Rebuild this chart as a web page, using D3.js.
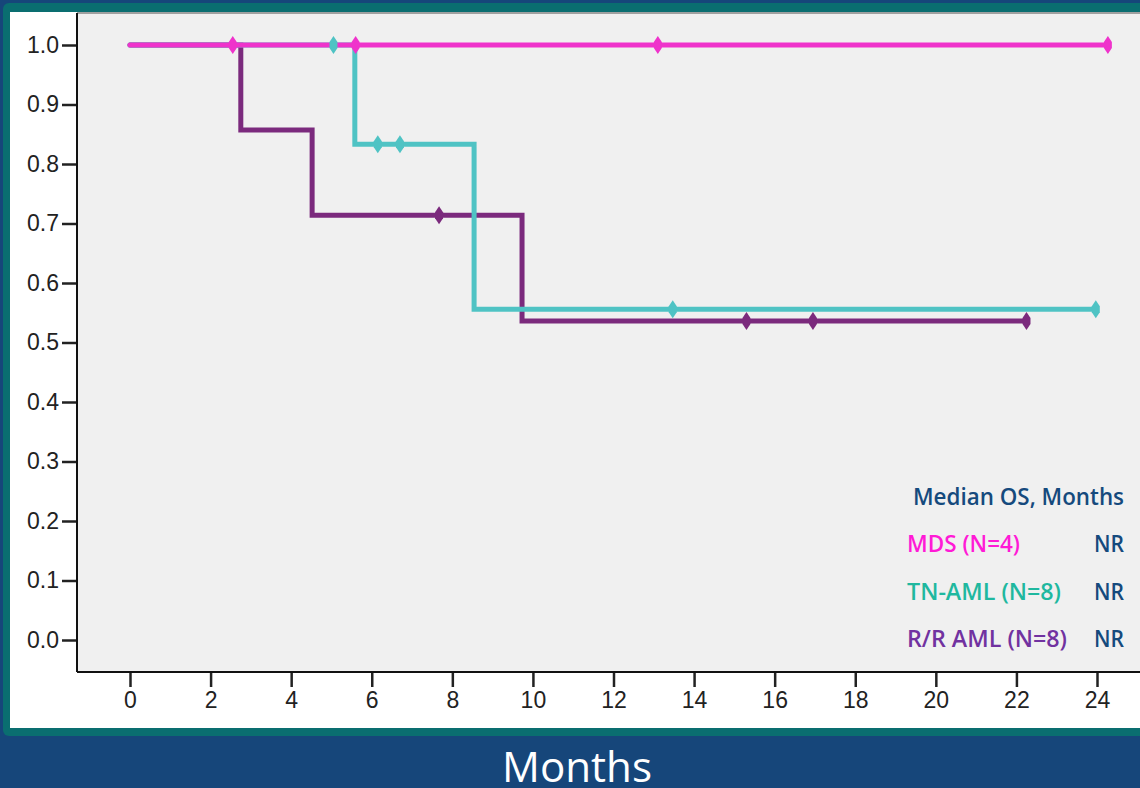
<!DOCTYPE html>
<html>
<head>
<meta charset="utf-8">
<script src="https://cdn.jsdelivr.net/npm/d3@7"></script>
<style>
html, body { margin: 0; padding: 0; background: #16467a; }
svg { display: block; }
</style>
</head>
<body>
<div id="canvas"></div>
<script>
// ----------------------------------------------------------
// DATA -----------------------------------------------------
// ----------------------------------------------------------
var group_names = ["MDS (N=4)", "TN-AML (N=8)", "R/R AML (N=8)"];
var median_os = ["NR", "NR", "NR"];

// step curves: time (months) and survival after that time
var mds_time = [0, 24.27];
var mds_surv = [1, 1];
var tn_time = [0, 5.58, 8.54, 23.97];
var tn_surv = [1, 0.833, 0.556, 0.556];
var rr_time = [0, 2.75, 4.52, 9.73, 22.25];
var rr_surv = [1, 0.857, 0.714, 0.536, 0.536];

// censored times
var mds_cens = [2.55, 5.6, 13.1, 24.27];
var tn_cens = [5.05, 6.15, 6.7, 13.47, 23.97];
var rr_cens = [7.67, 15.3, 16.95, 22.25];

var x_ticks = [0, 2, 4, 6, 8, 10, 12, 14, 16, 18, 20, 22, 24];
var y_ticks = [0, 0.1, 0.2, 0.3, 0.4, 0.5, 0.6, 0.7, 0.8, 0.9, 1.0];

var line_colors = ["#ef33cb", "#4fc3c4", "#7b2a7d"];
var text_colors = ["#ff1ad6", "#1fb89f", "#7132a0"];

// ----------------------------------------------------------
// STRUCTURE ------------------------------------------------
// ----------------------------------------------------------
var W = 1140, H = 788;

var container = d3.select("#canvas").append("svg")
.attr("width", W)
.attr("height", H);

container.append("rect")
.attr("width", W).attr("height", H)
.attr("fill", "#16467a");

// teal frame and white panel
container.append("rect")
.attr("x", 3).attr("y", 3).attr("width", W + 20).attr("height", 733)
.attr("rx", 6)
.attr("fill", "#0a6e70");
container.append("rect")
.attr("x", 10).attr("y", 12).attr("width", W).attr("height", 716)
.attr("fill", "#ffffff");

var plot_left = 77, plot_top = 13, plot_bottom = 672;

container.append("rect")
.attr("x", plot_left).attr("y", plot_top)
.attr("width", W - plot_left + 10).attr("height", plot_bottom - plot_top)
.attr("fill", "#f0f0f0");
container.append("line")
.attr("x1", plot_left).attr("x2", W)
.attr("y1", plot_top).attr("y2", plot_top)
.attr("stroke", "#a0a0a0").attr("stroke-width", 2);

// scales
var xScale = d3.scaleLinear().domain([0, 24]).range([130, 1097]);
var yScale = d3.scaleLinear().domain([0, 1]).range([640, 45]);

// ----------------------------------------------------------
// AXES -----------------------------------------------------
// ----------------------------------------------------------
var y_axis = container.append("g")
.attr("transform", `translate(${plot_left}, 0)`)
.call(d3.axisLeft(yScale).tickValues(y_ticks).tickFormat(d3.format(".1f")).tickSize(15).tickPadding(3));

var x_axis = container.append("g")
.attr("transform", `translate(0, ${plot_bottom})`)
.call(d3.axisBottom(xScale).tickValues(x_ticks).tickSize(15).tickPadding(5));

[y_axis, x_axis].forEach(function (a) {
a.select(".domain").remove();
a.selectAll(".tick line").attr("stroke", "#222").attr("stroke-width", 2.5);
a.selectAll(".tick text")
.attr("fill", "#222")
.style("font-family", "'Liberation Sans', Arial, sans-serif")
.style("font-size", "23px");
});

// frame lines
container.append("line")
.attr("x1", plot_left).attr("x2", plot_left)
.attr("y1", plot_top).attr("y2", plot_bottom)
.attr("stroke", "#111").attr("stroke-width", 2);
container.append("line")
.attr("x1", plot_left).attr("x2", W)
.attr("y1", plot_bottom).attr("y2", plot_bottom)
.attr("stroke", "#111").attr("stroke-width", 2);

// ----------------------------------------------------------
// CURVES ---------------------------------------------------
// ----------------------------------------------------------
var series = [
{ time: mds_time, surv: mds_surv, cens: mds_cens, color: line_colors[0] },
{ time: tn_time, surv: tn_surv, cens: tn_cens, color: line_colors[1] },
{ time: rr_time, surv: rr_surv, cens: rr_cens, color: line_colors[2] }
];

function survAt(s, t) {
var v = s.surv[0];
for (var i = 0; i < s.time.length; i++) {
if (s.time[i] <= t) v = s.surv[i];
}
return v;
}

var line = d3.line()
.x((d) => xScale(d[0]))
.y((d) => yScale(d[1]))
.curve(d3.curveStepAfter);

var curves = container.append("g").attr("class", "curves");
[2, 1, 0].forEach(function (k) {
var s = series[k];
curves.append("path")
.attr("d", line(s.time.map((t, i) => [t, s.surv[i]])))
.attr("fill", "none")
.attr("stroke", s.color)
.attr("stroke-width", 5)
.attr("stroke-linecap", "round");
});

var marks = container.append("g").attr("class", "marks");
[1, 2, 0].forEach(function (k) {
var s = series[k];
marks.selectAll(null)
.data(s.cens)
.enter()
.append("path")
.attr("transform", (t) => `translate(${xScale(t)}, ${yScale(survAt(s, t))})`)
.attr("d", "M0,-9 L4,-3 L4,3 L0,9 L-4,3 L-4,-3 Z")
.attr("fill", s.color);
});

// ----------------------------------------------------------
// LEGEND ---------------------------------------------------
// ----------------------------------------------------------
var legend = container.append("g")
.style("font-family", "'Open Sans', 'DejaVu Sans', sans-serif")
.style("font-size", "23px")
.style("font-weight", 600);

legend.append("text")
.attr("x", 1124).attr("y", 505)
.attr("text-anchor", "end")
.attr("fill", "#154a7d")
.attr("textLength", 211)
.attr("lengthAdjust", "spacingAndGlyphs")
.text("Median OS, Months");

var legend_y = [552, 600, 647];
var name_width = [113, 154, 160];
group_names.forEach(function (g, i) {
legend.append("text")
.attr("x", 907).attr("y", legend_y[i])
.attr("fill", text_colors[i])
.attr("textLength", name_width[i])
.attr("lengthAdjust", "spacingAndGlyphs")
.text(g);
legend.append("text")
.attr("x", 1124).attr("y", legend_y[i])
.attr("text-anchor", "end")
.attr("fill", "#154a7d")
.attr("textLength", 30)
.attr("lengthAdjust", "spacingAndGlyphs")
.text(median_os[i]);
});

// axis title
container.append("text")
.attr("x", 577).attr("y", 782)
.attr("text-anchor", "middle")
.attr("fill", "#ffffff")
.style("font-family", "'Open Sans', sans-serif")
.style("font-size", "42px")
.attr("textLength", 150)
.attr("lengthAdjust", "spacingAndGlyphs")
.text("Months");
</script>
</body>
</html>
